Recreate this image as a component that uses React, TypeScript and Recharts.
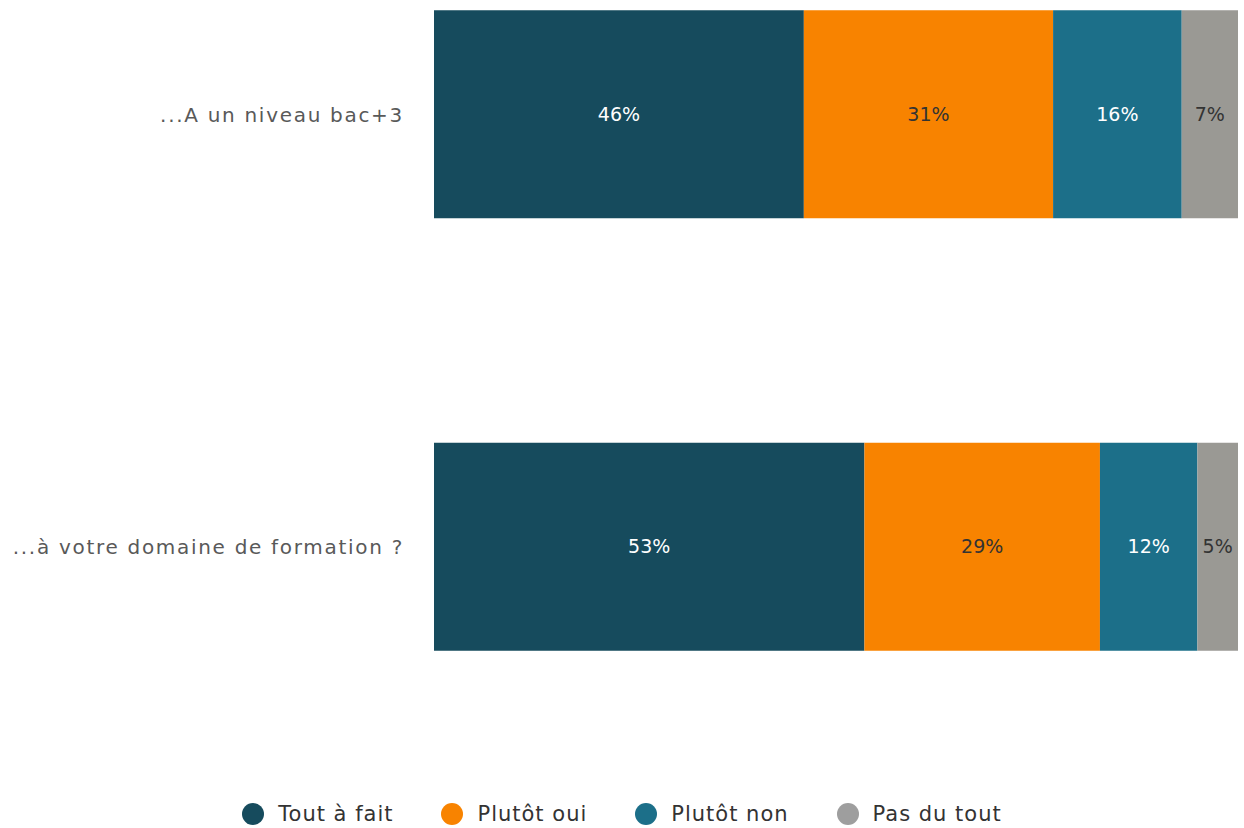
import React from 'react';
import { BarChart, Bar, XAxis, YAxis, Legend, LabelList } from 'recharts';

const categories = ['...A un niveau bac+3', '...à votre domaine de formation ?'];
const seriesNames = ['Tout à fait', 'Plutôt oui', 'Plutôt non', 'Pas du tout'];
const toutAFait = [46, 53];
const plutotOui = [31, 29];
const plutotNon = [16, 12];
const pasDuTout = [7, 5];

const colors = ['#164B5D', '#F88300', '#1C6F89', '#9A9994'];
const legendColors = ['#164B5D', '#F88300', '#1C6F89', '#9E9E9E'];
const labelColors = ['#FFFFFF', '#333333', '#FFFFFF', '#333333'];
const keys = ['s0', 's1', 's2', 's3'];

const data = categories.map((c, i) => ({
  category: c,
  s0: toutAFait[i],
  s1: plutotOui[i],
  s2: plutotNon[i],
  s3: pasDuTout[i],
}));

const FONT = '"DejaVu Sans", sans-serif';

const renderLegend = () => (
  <div
    style={{
      display: 'flex',
      justifyContent: 'center',
      alignItems: 'center',
      gap: 48,
      height: 30,
      fontFamily: FONT,
      fontSize: 21,
      letterSpacing: 1,
      color: '#333333',
    }}
  >
    {seriesNames.map((n, i) => (
      <div key={n} style={{ display: 'flex', alignItems: 'center' }}>
        <span
          style={{
            display: 'inline-block',
            width: 22,
            height: 22,
            borderRadius: '50%',
            background: legendColors[i],
            marginRight: 14,
          }}
        />
        <span>{n}</span>
      </div>
    ))}
  </div>
);

export default function App() {
  return (
    <div style={{ position: 'absolute', left: 0, top: 0, width: 1244, height: 828, background: '#fff' }}>
      <BarChart
        width={1244}
        height={828}
        data={data}
        layout="vertical"
        stackOffset="expand"
        margin={{ top: -101.75, right: 6, bottom: 34.75, left: 0 }}
      >
        <XAxis type="number" hide domain={[0, 1]} />
        <YAxis
          type="category"
          dataKey="category"
          width={434}
          axisLine={false}
          tickLine={false}
          tickSize={0}
          tickMargin={30}
          tick={{ fill: '#595959', fontSize: 20, fontFamily: FONT, letterSpacing: 1.7 }}
        />
        <Legend
          verticalAlign="bottom"
          content={renderLegend}
          wrapperStyle={{ position: 'absolute', top: 799, left: 0, width: 1244, height: 30 }}
        />
        {keys.map((k, i) => (
          <Bar key={k} dataKey={k} name={seriesNames[i]} stackId="a" fill={colors[i]} barSize={208} isAnimationActive={false}>
            <LabelList
              dataKey={k}
              position="center"
              formatter={(v: any) => `${v}%`}
              style={{ fill: labelColors[i], fontSize: 19, fontFamily: FONT }}
            />
          </Bar>
        ))}
      </BarChart>
    </div>
  );
}
